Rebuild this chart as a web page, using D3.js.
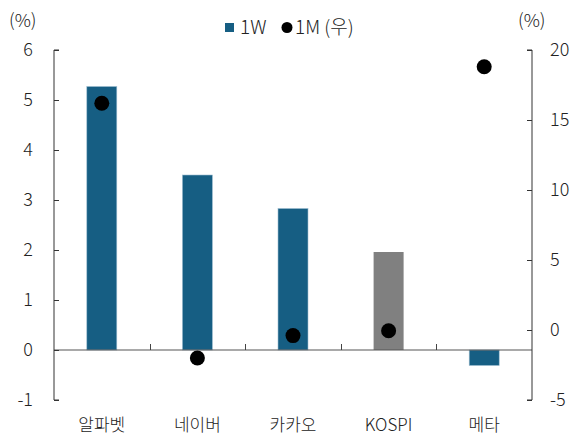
<!DOCTYPE html>
<html><head><meta charset="utf-8">
<script src="https://cdn.jsdelivr.net/npm/d3@7"></script>
<style>body{margin:0;background:#fff}svg{display:block}text{font-family:"Noto Sans CJK KR","Noto Sans",sans-serif;fill:#222;font-weight:300}</style>
</head><body><svg id="c" width="575" height="438"></svg>
<script>
const categories = ["알파벳","네이버","카카오","KOSPI","메타"];
const weekValues = [5.27, 3.5, 2.83, 1.96, -0.31];
const monthValues = [16.2, -2.0, -0.4, -0.05, 18.8];
const leftTicks = [-1,0,1,2,3,4,5,6];
const rightTicks = [-5,0,5,10,15,20];
const barColors = ["#165e83","#165e83","#165e83","#808080","#165e83"];

const svg = d3.select("#c");
const L = 54, R = 532, T = 50, B = 400;
const x = d3.scaleBand().domain(categories).range([L,R]);
const yL = d3.scaleLinear().domain([-1,6]).range([B,T]);
const yR = d3.scaleLinear().domain([-5,20]).range([B,T]);
const barW = 30;
const fmt = d => String(d);

// bars
svg.append("g").selectAll("rect").data(categories).join("rect")
  .attr("x", d => x(d) + x.bandwidth()/2 - barW/2)
  .attr("width", barW)
  .attr("y", (d,i) => yL(Math.max(0, weekValues[i])))
  .attr("height", (d,i) => Math.abs(yL(weekValues[i]) - yL(0)))
  .attr("fill", (d,i) => barColors[i])
  .attr("stroke", (d,i) => i===3 ? "none" : "#9dbdd0")
  .attr("stroke-width", 0.6);

// zero line
svg.append("line").attr("x1",L).attr("x2",R).attr("y1",yL(0)).attr("y2",yL(0))
  .attr("stroke","#555").attr("stroke-width",1.2);
// category separators
const seps = categories.slice(1).map(c => x(c));
svg.append("g").selectAll("line").data(seps).join("line")
  .attr("x1",d=>Math.round(d)+0.5).attr("x2",d=>Math.round(d)+0.5)
  .attr("y1",yL(0)).attr("y2",yL(0)-6).attr("stroke","#444").attr("stroke-width",1);

// left axis
const axL = svg.append("g").attr("transform",`translate(${L},0)`)
  .call(d3.axisRight(yL).tickValues(leftTicks).tickSize(5).tickFormat(fmt));
axL.select(".domain").attr("stroke","#333").attr("d",`M5,${T}H0V${B}H5`);
axL.selectAll(".tick line").attr("stroke","#333");
axL.selectAll(".tick text").attr("x",-21).attr("text-anchor","end").style("font-size","18px").attr("fill","#222");

// right axis
const axR = svg.append("g").attr("transform",`translate(${R},0)`)
  .call(d3.axisLeft(yR).tickValues(rightTicks).tickSize(5).tickFormat(fmt));
axR.select(".domain").attr("stroke","#333").attr("d",`M-5,${T}H0V${B}H-5`);
axR.selectAll(".tick line").attr("stroke","#333");
axR.selectAll(".tick text").attr("x",18).attr("text-anchor","start").style("font-size","18px").attr("fill","#222");
svg.selectAll(".tick text").attr("font-family",null);

// dots
svg.append("g").selectAll("circle").data(categories).join("circle")
  .attr("cx", d => x(d) + x.bandwidth()/2)
  .attr("cy", (d,i) => yR(monthValues[i]))
  .attr("r", 7.5).attr("fill","#000");

// category labels
svg.append("g").selectAll("text").data(categories).join("text")
  .attr("x", d => x(d) + x.bandwidth()/2).attr("y", 431)
  .attr("text-anchor","middle").style("font-size","17px").text(d=>d);

// units
svg.append("text").attr("x",9).attr("y",27).style("font-size","18px").text("(%)");
svg.append("text").attr("x",518).attr("y",27).style("font-size","18px").text("(%)");

// legend
const lg = svg.append("g");
lg.append("rect").attr("x",225).attr("y",23).attr("width",9).attr("height",9).attr("fill","#165e83");
lg.append("text").attr("x",240).attr("y",34).style("font-size","19px").text("1W");
lg.append("circle").attr("cx",287).attr("cy",27.5).attr("r",5.5).attr("fill","#000");
lg.append("text").attr("x",295).attr("y",34).style("font-size","19px").text("1M (우)");
</script></body></html>
